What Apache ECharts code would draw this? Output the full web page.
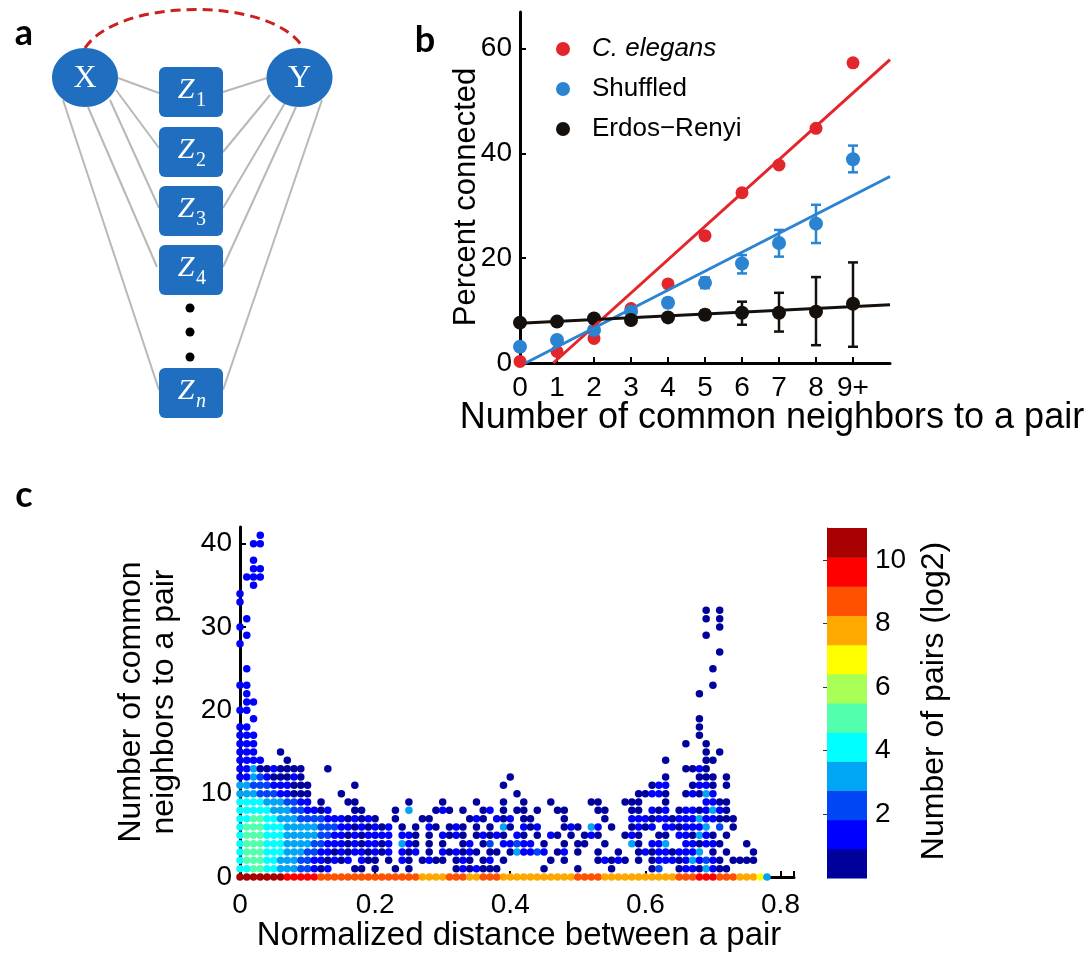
<!DOCTYPE html>
<html><head><meta charset="utf-8">
<script src="https://cdn.jsdelivr.net/npm/echarts@6/dist/echarts.min.js"></script>
<style>html,body{margin:0;padding:0;background:#fff}#c{width:1091px;height:955px}</style>
</head><body><div id="c"></div>
<script>
// ---------- Panel b data ----------
const catB = ['0','1','2','3','4','5','6','7','8','9+'];
const elegans   = [0.3, 2.2, 4.7, 10.4, 15.1, 24.3, 32.5, 37.8, 44.8, 57.3];
const shuffled  = [3.1, 4.4, 6.3, 9.8, 11.5, 15.3, 19.0, 22.9, 26.6, 38.9];
const shuffLo   = [2.7, 3.9, 5.7, 9.2, 10.7, 14.3, 17.1, 20.3, 22.9, 36.4];
const shuffHi   = [3.5, 4.9, 6.9, 10.4, 12.3, 16.3, 20.6, 25.4, 30.2, 41.5];
const erdos     = [7.7, 7.9, 8.5, 8.2, 8.7, 9.2, 9.6, 9.6, 9.8, 11.3];
const erdosLo   = [7.4, 7.6, 8.1, 7.8, 8.1, 8.4, 7.3, 6.0, 3.4, 3.1];
const erdosHi   = [8.0, 8.2, 8.9, 8.6, 9.3, 10.0, 11.7, 13.4, 16.4, 19.2];
const fitElegans  = [[0.9, 0], [10, 57.9]];
const fitShuffled = [[0.15, 0], [10, 35.6]];
const fitErdos    = [[0, 7.6], [10, 11.1]];
const ticksBY = [0, 20, 40, 60];
const namesB = ['C. elegans', 'Shuffled', 'Erdos\u2212Renyi'];

// ---------- Panel c data ----------
// x step 0.01 per column, row index = number of common neighbors,
// chars = colour level (0..9, a=10, b=11), '.' = no pair; '|' separates blocks of 10 columns
const xStepC = 0.01;
const rowsC = [
 "bbbbbbbaaa|aa99999999|9999999888|8999889998|8888888888|9999888888|88888999aa|a99988873",
 "4455443332|2101...00.|0..0.0....|..0101000.|.....0....|0....0....|.02..01103|100",
 "4555443332|2110101.10|0.0.10.010|0.010.01.0|......0.0.|...01010.0|.011101312|10.0000",
 "4555444333|2211010110|101.101.0.|101010.00.|031121.01.|0..0..0..0|101101113.|0.0...0",
 "4555444333|3221110101|101.310.0.|0..01.02.1|1211.0..0.|00..0...30|.113..1101|10...0",
 "4555444333|3322110101|111.110.0.|1010.01010|.10.0.10.0|.010...010|..00.11031|0.0",
 "4555444333|3322211010|101.0.0.10|.010.0.0.3|0.101...01|0.31.0..01|01.1101113|.2.0",
 "4455443332|2221110101|0..0...00.|....010.10|1.00....0.|....0...11|1011011131|1000",
 "4444433322|1101...00.|...0.3...0|10.0..01.0|.00.0..00.|...00...00|.101.01101|310",
 "4444333221|1.0...00..|.....0....|0....0...0|..0...0...|..00...000|...0.....1|100",
 "3332221100|0....0....|||.0|.........0|0110..0103|1",
 "3322211100|0......0..||.........0|||.011...011|0.0",
 "1132100010||||0||...0....00|0.0",
 "1130010000|...0|||||......0010",
 "1111...0||||||...0.....0|0",
 "111...0||||||.........0|.0",
 "111||||||......0..0",
 "111||||||........0",
 "11||||||........0",
 "..1||||||........0",
 "11",
 ".11",
 ".1||||||........0",
 "11|||||||0",
 "",
 ".1|||||||0",
 "",
 "|||||||.0",
 "1",
 ".1||||||.........0",
 "1|||||||.0",
 ".1||||||.........0|.0",
 "||||||.........0|.0",
 "1",
 "1",
 "..1",
 ".111",
 "..11",
 "..1",
 "",
 "..11",
 "...1"
];
const ticksCX = [0, 0.2, 0.4, 0.6, 0.8];
const ticksCY = [0, 10, 20, 30, 40];
const ticksBar = [2, 4, 6, 8, 10];
const barMax = 11;
const jet12 = ['#00009c','#0000ff','#0046f5','#00a5f5','#00ffff','#52ffad','#a8ff55','#ffff00','#ffa800','#ff5200','#ff0000','#a80000'];

// ---------- build panel c points ----------
const pointsC = [];
rowsC.forEach((row, v) => {
  row.split('|').forEach((chunk, b) => {
    for (let k = 0; k < chunk.length; k++) {
      const ch = chunk[k];
      if (ch === '.') continue;
      const lvl = parseInt(ch, 16);
      pointsC.push([+((b * 10 + k) * xStepC).toFixed(2), v, lvl]);
    }
  });
});

const FONT = "'Liberation Sans', Arial, sans-serif";
const BLUE = '#1f6ebf';
const black = '#000';
const RED = '#e3262b', SKY = '#2a84d2', DARK = '#15100c';

function errSeries(lo, hi, color) {
  return {
    type: 'custom', xAxisIndex: 0, yAxisIndex: 0, z: 3,
    data: lo.map((l, i) => [i, l, hi[i]]),
    renderItem: function (params, api) {
      const p1 = api.coord([api.value(0), api.value(1)]);
      const p2 = api.coord([api.value(0), api.value(2)]);
      const w = 5;
      const st = {stroke: color, lineWidth: 2.5};
      return {type: 'group', children: [
        {type: 'line', shape: {x1: p1[0], y1: p1[1], x2: p2[0], y2: p2[1]}, style: st},
        {type: 'line', shape: {x1: p1[0]-w, y1: p1[1], x2: p1[0]+w, y2: p1[1]}, style: st},
        {type: 'line', shape: {x1: p2[0]-w, y1: p2[1], x2: p2[0]+w, y2: p2[1]}, style: st}
      ]};
    }
  };
}

// ---------- panel a diagram ----------
const zBoxes = [{y: 67, s: '1'}, {y: 127, s: '2'}, {y: 186, s: '3'}, {y: 245, s: '4'}, {y: 368, s: 'n'}];
const linesA = [
  [118,78,159,93],[116,90,159,148],[110,100,159,208],[88,107,157,267],[63,100,159,390],
  [223,92,267,78],[223,152,270,95],[223,208,285,103],[223,267,296,107],[223,390,322,100]
];
const graphicA = [];
linesA.forEach(l => graphicA.push({type:'line', shape:{x1:l[0],y1:l[1],x2:l[2],y2:l[3]}, style:{stroke:'#b8b8b8', lineWidth:2}, z:1}));
graphicA.push({type:'bezierCurve', shape:{x1:85,y1:48,cpx1:118,cpy1:-2,cpx2:268,cpy2:-4,x2:302,y2:46},
  style:{stroke:'#cc1f1f', lineWidth:3, lineDash:[10,6], fill:null}, z:2});
[[85,77.5],[299.5,77.5]].forEach((c, i) => {
  graphicA.push({type:'ellipse', shape:{cx:c[0], cy:c[1], rx:33, ry:29.5}, style:{fill:BLUE}, z:3});
  graphicA.push({type:'text', x:c[0], y:c[1]+1, z:4, style:{text: i ? 'Y' : 'X', fill:'#fff',
    font:"32px 'Liberation Serif', 'DejaVu Serif', serif", align:'center', verticalAlign:'middle'}});
});
zBoxes.forEach(b => {
  graphicA.push({type:'rect', shape:{x:159, y:b.y, width:64, height:50, r:6}, style:{fill:BLUE}, z:3});
  graphicA.push({type:'text', x:186, y:b.y+23, z:4, style:{text:'Z', fill:'#fff',
    font:"italic 30px 'Liberation Serif', 'DejaVu Serif', serif", align:'center', verticalAlign:'middle'}});
  graphicA.push({type:'text', x:201, y:b.y+34, z:4, style:{text:b.s, fill:'#fff',
    font:(b.s==='n'?'italic ':'')+"20px 'Liberation Serif', 'DejaVu Serif', serif", align:'center', verticalAlign:'middle'}});
});
[308, 332, 357].forEach(y => graphicA.push({type:'circle', shape:{cx:190, cy:y, r:4.5}, style:{fill:'#000'}, z:3}));

const panelLabel = (t, x, y) => ({type:'text', x, y, style:{text:t, fill:'#000', font:"bold 36px Lato, 'Open Sans', sans-serif", align:'center', verticalAlign:'middle'}});
const titleText = (t, x, y, rot, size, extra) => Object.assign({type:'text', x, y, rotation: rot || 0,
  style: Object.assign({text:t, fill:'#000', font:(size || 32) + "px " + FONT, align:'center', verticalAlign:'middle'}, extra || {})});

const graphics = graphicA.concat([
  panelLabel('a', 24, 33), panelLabel('b', 425, 40), panelLabel('c', 24, 495),
  titleText('Number of common neighbors to a pair', 772, 418, 0, 36),
  titleText('Percent connected', 466, 197, Math.PI/2, 31),
  titleText('Normalized distance between a pair', 519, 936, 0, 33),
  titleText('Number of common\nneighbors to a pair', 148, 702, Math.PI/2, 32, {lineHeight: 33}),
  titleText('Number of pairs (log2)', 934, 701, Math.PI/2, 32)
]);

const axisLab = (extra) => Object.assign({color:'#000', fontSize:28, fontFamily:FONT}, extra);

const option = {
  backgroundColor: '#fff',
  animation: false,
  graphic: graphics,
  legend: {
    data: namesB, orient: 'vertical', left: 551, top: 31, itemGap: 14,
    itemWidth: 40, itemHeight: 14, icon: 'circle',
    textStyle: {fontSize: 26, fontFamily: FONT, color: '#000', padding: [0, 0, 0, 4],
      rich: {i: {fontStyle: 'italic', fontSize: 26, fontFamily: FONT}}},
    formatter: n => n === 'C. elegans' ? '{i|C. elegans}' : n
  },
  grid: [
    {left: 520, width: 370, top: 12, bottom: 592},
    {left: 240, width: 554, top: 527, bottom: 78},
    {left: 827, width: 40, top: 528, bottom: 77}
  ],
  xAxis: [
    {gridIndex: 0, type: 'value', min: 0, max: 10, splitLine: {show: false},
     axisLine: {lineStyle: {color: black, width: 3}},
     axisTick: {inside: true, length: 6, customValues: catB.map((c, i) => i), lineStyle: {color: black, width: 2}},
     axisLabel: axisLab({customValues: catB.map((c, i) => i), formatter: v => catB[v], margin: 11})},
    {gridIndex: 1, type: 'value', min: 0, max: 0.82, splitLine: {show: false},
     axisLine: {lineStyle: {color: black, width: 3}},
     axisTick: {inside: true, length: 6, customValues: ticksCX.concat([0.82]), lineStyle: {color: black, width: 2}},
     axisLabel: axisLab({customValues: ticksCX, formatter: v => v === 0 ? '0' : v.toFixed(1), margin: 14})},
    {gridIndex: 2, type: 'value', min: 0, max: 1, show: false}
  ],
  yAxis: [
    {gridIndex: 0, type: 'value', min: 0, max: 67, splitLine: {show: false},
     axisLine: {show: true, lineStyle: {color: black, width: 3}},
     axisTick: {show: true, inside: true, length: 6, customValues: ticksBY, lineStyle: {color: black, width: 2}},
     axisLabel: axisLab({customValues: ticksBY, margin: 8})},
    {gridIndex: 1, type: 'value', min: 0, max: 42, splitLine: {show: false},
     axisLine: {show: true, lineStyle: {color: black, width: 3}},
     axisTick: {show: true, inside: true, length: 6, customValues: ticksCY, lineStyle: {color: black, width: 2}},
     axisLabel: axisLab({customValues: ticksCY, margin: 8})},
    {gridIndex: 2, type: 'value', min: 0, max: barMax, position: 'right', splitLine: {show: false},
     axisLine: {show: true, lineStyle: {color: '#333', width: 1}},
     axisTick: {show: true, inside: true, length: 4, customValues: ticksBar, lineStyle: {color: '#333', width: 1}},
     axisLabel: axisLab({customValues: ticksBar, margin: 8})}
  ],
  series: [
    errSeries(shuffLo, shuffHi, SKY),
    errSeries(erdosLo, erdosHi, DARK),
    {name: namesB[0], type: 'scatter', xAxisIndex: 0, yAxisIndex: 0, symbolSize: 13, z: 4,
     itemStyle: {color: RED, opacity: 1}, data: elegans.map((v, i) => [i, v])},
    {name: namesB[1], type: 'scatter', xAxisIndex: 0, yAxisIndex: 0, symbolSize: 14, z: 4,
     itemStyle: {color: SKY, opacity: 1}, data: shuffled.map((v, i) => [i, v])},
    {name: namesB[2], type: 'scatter', xAxisIndex: 0, yAxisIndex: 0, symbolSize: 14, z: 4,
     itemStyle: {color: DARK, opacity: 1}, data: erdos.map((v, i) => [i, v])},
    {type: 'line', xAxisIndex: 0, yAxisIndex: 0, data: fitElegans, symbol: 'none', z: 5, lineStyle: {color: RED, width: 3}},
    {type: 'line', xAxisIndex: 0, yAxisIndex: 0, data: fitShuffled, symbol: 'none', z: 5, lineStyle: {color: SKY, width: 3}},
    {type: 'line', xAxisIndex: 0, yAxisIndex: 0, data: fitErdos, symbol: 'none', z: 5, lineStyle: {color: DARK, width: 3}},
    {type: 'scatter', xAxisIndex: 1, yAxisIndex: 1, symbolSize: 7.5, data: pointsC,
     itemStyle: {opacity: 1, color: p => jet12[p.value[2]]}},
    {type: 'custom', xAxisIndex: 2, yAxisIndex: 2, data: jet12.map((c, k) => [k]),
     renderItem: function (params, api) {
       const k = api.value(0);
       const p0 = api.coord([0, k * barMax / jet12.length]);
       const p1 = api.coord([1, (k + 1) * barMax / jet12.length]);
       return {type: 'rect', shape: {x: p0[0], y: p1[1], width: p1[0] - p0[0], height: p0[1] - p1[1] + 0.5},
               style: {fill: jet12[k]}};
     }}
  ]
};
const chart = echarts.init(document.getElementById('c'));
chart.setOption(option);
</script></body></html>
